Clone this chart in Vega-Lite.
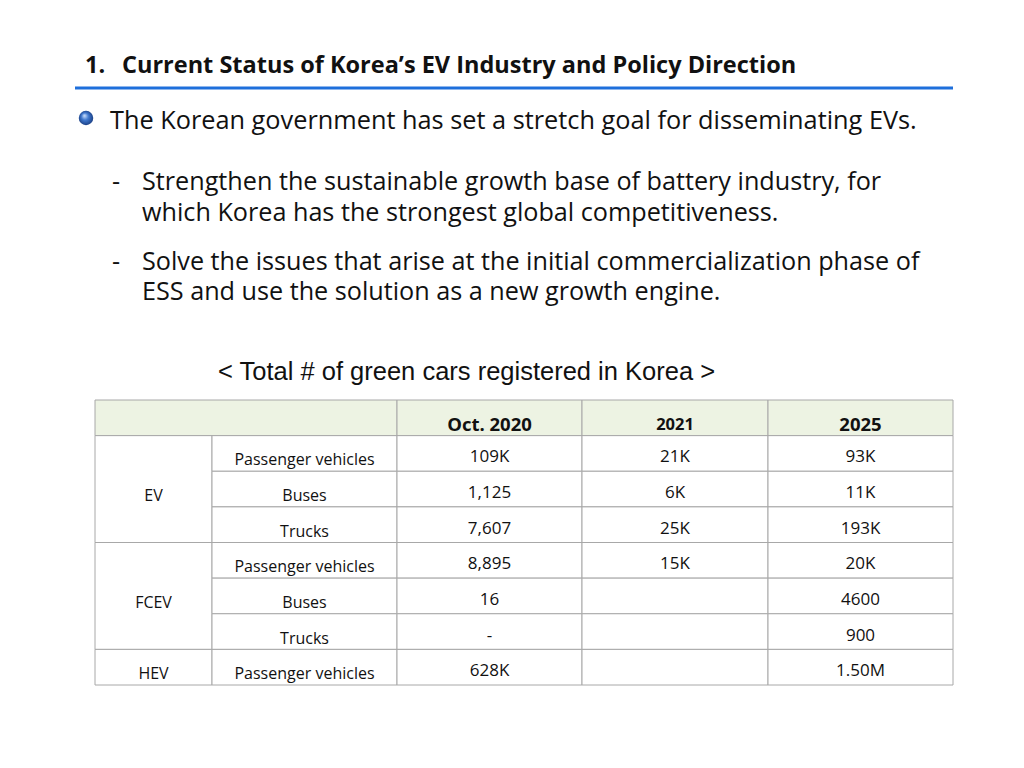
{
  "$schema": "https://vega.github.io/schema/vega-lite/v6.json",
  "width": 1024,
  "height": 768,
  "autosize": {"type": "none"},
  "padding": 0,
  "background": "white",
  "config": {"view": {"stroke": null}},
  "data": {"values": [{}]},
  "datasets": {
    "cells": [
      {"part": "header", "r": 0, "r2": 1, "c": 0, "c2": 2, "text": ""},
      {"part": "header", "r": 0, "r2": 1, "c": 2, "c2": 3, "text": "Oct. 2020"},
      {"part": "header", "r": 0, "r2": 1, "c": 3, "c2": 4, "text": "2021"},
      {"part": "header", "r": 0, "r2": 1, "c": 4, "c2": 5, "text": "2025"},
      {"part": "group", "r": 1, "r2": 4, "c": 0, "c2": 1, "text": "EV"},
      {"part": "group", "r": 4, "r2": 7, "c": 0, "c2": 1, "text": "FCEV"},
      {"part": "group", "r": 7, "r2": 8, "c": 0, "c2": 1, "text": "HEV"},
      {"part": "type", "r": 1, "r2": 2, "c": 1, "c2": 2, "text": "Passenger vehicles"},
      {"part": "type", "r": 2, "r2": 3, "c": 1, "c2": 2, "text": "Buses"},
      {"part": "type", "r": 3, "r2": 4, "c": 1, "c2": 2, "text": "Trucks"},
      {"part": "type", "r": 4, "r2": 5, "c": 1, "c2": 2, "text": "Passenger vehicles"},
      {"part": "type", "r": 5, "r2": 6, "c": 1, "c2": 2, "text": "Buses"},
      {"part": "type", "r": 6, "r2": 7, "c": 1, "c2": 2, "text": "Trucks"},
      {"part": "type", "r": 7, "r2": 8, "c": 1, "c2": 2, "text": "Passenger vehicles"},
      {"part": "value", "r": 1, "r2": 2, "c": 2, "c2": 3, "text": "109K"},
      {"part": "value", "r": 1, "r2": 2, "c": 3, "c2": 4, "text": "21K"},
      {"part": "value", "r": 1, "r2": 2, "c": 4, "c2": 5, "text": "93K"},
      {"part": "value", "r": 2, "r2": 3, "c": 2, "c2": 3, "text": "1,125"},
      {"part": "value", "r": 2, "r2": 3, "c": 3, "c2": 4, "text": "6K"},
      {"part": "value", "r": 2, "r2": 3, "c": 4, "c2": 5, "text": "11K"},
      {"part": "value", "r": 3, "r2": 4, "c": 2, "c2": 3, "text": "7,607"},
      {"part": "value", "r": 3, "r2": 4, "c": 3, "c2": 4, "text": "25K"},
      {"part": "value", "r": 3, "r2": 4, "c": 4, "c2": 5, "text": "193K"},
      {"part": "value", "r": 4, "r2": 5, "c": 2, "c2": 3, "text": "8,895"},
      {"part": "value", "r": 4, "r2": 5, "c": 3, "c2": 4, "text": "15K"},
      {"part": "value", "r": 4, "r2": 5, "c": 4, "c2": 5, "text": "20K"},
      {"part": "value", "r": 5, "r2": 6, "c": 2, "c2": 3, "text": "16"},
      {"part": "value", "r": 5, "r2": 6, "c": 3, "c2": 4, "text": ""},
      {"part": "value", "r": 5, "r2": 6, "c": 4, "c2": 5, "text": "4600"},
      {"part": "value", "r": 6, "r2": 7, "c": 2, "c2": 3, "text": "-"},
      {"part": "value", "r": 6, "r2": 7, "c": 3, "c2": 4, "text": ""},
      {"part": "value", "r": 6, "r2": 7, "c": 4, "c2": 5, "text": "900"},
      {"part": "value", "r": 7, "r2": 8, "c": 2, "c2": 3, "text": "628K"},
      {"part": "value", "r": 7, "r2": 8, "c": 3, "c2": 4, "text": ""},
      {"part": "value", "r": 7, "r2": 8, "c": 4, "c2": 5, "text": "1.50M"}
    ]
  },
  "layer": [
    {
      "mark": {"type": "text", "font": "Open Sans", "fontWeight": "bold", "fontSize": 23.5, "align": "left", "baseline": "alphabetic", "color": "#111111"},
      "encoding": {"x": {"value": 85}, "y": {"value": 73}, "text": {"value": "1."}}
    },
    {
      "mark": {"type": "text", "font": "Open Sans", "fontWeight": "bold", "fontSize": 23.5, "align": "left", "baseline": "alphabetic", "color": "#111111"},
      "encoding": {"x": {"value": 122}, "y": {"value": 73}, "text": {"value": "Current Status of Korea’s EV Industry and Policy Direction"}}
    },
    {
      "mark": {"type": "rule", "stroke": "#1E6FDB", "strokeWidth": 3},
      "encoding": {"x": {"value": 75}, "x2": {"value": 953}, "y": {"value": 88}}
    },
    {
      "mark": {"type": "point", "filled": true, "shape": "circle", "size": 210, "opacity": 1,
        "fill": {"gradient": "radial", "x1": 0.38, "y1": 0.32, "r1": 0, "x2": 0.5, "y2": 0.5, "r2": 0.55,
          "stops": [{"offset": 0, "color": "#d8e8ff"}, {"offset": 0.45, "color": "#3f78cf"}, {"offset": 1, "color": "#17397c"}]}},
      "encoding": {"x": {"value": 86}, "y": {"value": 118}}
    },
    {
      "mark": {"type": "text", "font": "Open Sans", "fontSize": 25.3, "align": "left", "baseline": "alphabetic", "color": "#111111"},
      "encoding": {"x": {"value": 110}, "y": {"value": 129}, "text": {"value": "The Korean government has set a stretch goal for disseminating EVs."}}
    },
    {
      "mark": {"type": "text", "font": "Open Sans", "fontSize": 25.2, "align": "left", "baseline": "alphabetic", "color": "#111111"},
      "encoding": {"x": {"value": 112}, "y": {"value": 190}, "text": {"value": "-"}}
    },
    {
      "mark": {"type": "text", "font": "Open Sans", "fontSize": 25.2, "align": "left", "baseline": "alphabetic", "color": "#111111"},
      "encoding": {"x": {"value": 142}, "y": {"value": 190}, "text": {"value": "Strengthen the sustainable growth base of battery industry, for"}}
    },
    {
      "mark": {"type": "text", "font": "Open Sans", "fontSize": 25.2, "align": "left", "baseline": "alphabetic", "color": "#111111"},
      "encoding": {"x": {"value": 142}, "y": {"value": 221}, "text": {"value": "which Korea has the strongest global competitiveness."}}
    },
    {
      "mark": {"type": "text", "font": "Open Sans", "fontSize": 25.2, "align": "left", "baseline": "alphabetic", "color": "#111111"},
      "encoding": {"x": {"value": 112}, "y": {"value": 270}, "text": {"value": "-"}}
    },
    {
      "mark": {"type": "text", "font": "Open Sans", "fontSize": 25.2, "align": "left", "baseline": "alphabetic", "color": "#111111"},
      "encoding": {"x": {"value": 142}, "y": {"value": 270}, "text": {"value": "Solve the issues that arise at the initial commercialization phase of"}}
    },
    {
      "mark": {"type": "text", "font": "Open Sans", "fontSize": 25.2, "align": "left", "baseline": "alphabetic", "color": "#111111"},
      "encoding": {"x": {"value": 142}, "y": {"value": 300}, "text": {"value": "ESS and use the solution as a new growth engine."}}
    },
    {
      "mark": {"type": "text", "font": "Liberation Sans", "fontSize": 25.5, "align": "left", "baseline": "alphabetic", "color": "#111111"},
      "encoding": {"x": {"value": 218}, "y": {"value": 380}, "text": {"value": "< Total # of green cars registered in Korea >"}}
    },
    {
      "data": {"name": "cells"},
      "mark": {"type": "rect", "stroke": "#A8A8A8", "strokeWidth": 1},
      "encoding": {
        "x": {"field": "c", "type": "quantitative", "axis": null, "scale": {"domain": [0, 1, 2, 3, 4, 5], "range": [95, 212, 397, 582, 768, 953], "zero": false, "nice": false}},
        "x2": {"field": "c2"},
        "y": {"field": "r", "type": "quantitative", "axis": null, "scale": {"domain": [0, 8], "range": [400, 685], "zero": false, "nice": false}},
        "y2": {"field": "r2"},
        "fill": {"condition": {"test": "datum.part === 'header'", "value": "#EDF3E3"}, "value": "#FFFFFF"}
      }
    },
    {
      "data": {"name": "cells"},
      "transform": [
        {"filter": "datum.part === 'header'"},
        {"calculate": "(datum.c + datum.c2) / 2", "as": "cx"},
        {"calculate": "(datum.r + datum.r2) / 2", "as": "cy"}
      ],
      "mark": {"type": "text", "font": "Open Sans", "fontWeight": "bold", "baseline": "middle", "align": "center", "dy": 7, "color": "#111111"},
      "encoding": {
        "x": {"field": "cx", "type": "quantitative"},
        "y": {"field": "cy", "type": "quantitative"},
        "text": {"field": "text"},
        "size": {"condition": {"test": "datum.text === '2021'", "value": 16.5}, "value": 18.5}
      }
    },
    {
      "data": {"name": "cells"},
      "transform": [
        {"filter": "datum.part === 'group' || datum.part === 'type'"},
        {"calculate": "(datum.c + datum.c2) / 2", "as": "cx"},
        {"calculate": "(datum.r + datum.r2) / 2", "as": "cy"}
      ],
      "mark": {"type": "text", "font": "Open Sans", "fontSize": 16, "baseline": "middle", "align": "center", "dy": 7, "color": "#111111"},
      "encoding": {
        "x": {"field": "cx", "type": "quantitative"},
        "y": {"field": "cy", "type": "quantitative"},
        "text": {"field": "text"}
      }
    },
    {
      "data": {"name": "cells"},
      "transform": [
        {"filter": "datum.part === 'value'"},
        {"calculate": "(datum.c + datum.c2) / 2", "as": "cx"},
        {"calculate": "(datum.r + datum.r2) / 2", "as": "cy"}
      ],
      "mark": {"type": "text", "font": "Open Sans", "fontSize": 17, "baseline": "middle", "align": "center", "dy": 4, "color": "#111111"},
      "encoding": {
        "x": {"field": "cx", "type": "quantitative"},
        "y": {"field": "cy", "type": "quantitative"},
        "text": {"field": "text"}
      }
    }
  ]
}
